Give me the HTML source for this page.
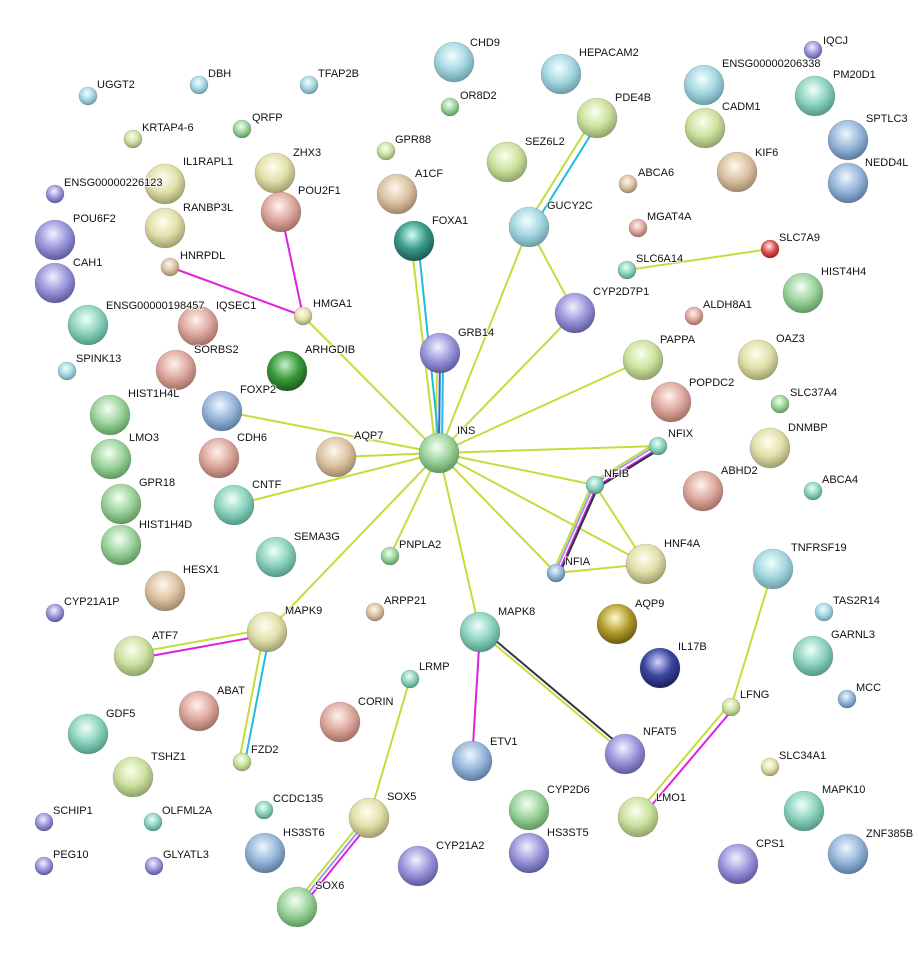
<!DOCTYPE html>
<html><head><meta charset="utf-8"><style>
html,body{margin:0;padding:0;background:#fff}
svg text{font-family:"Liberation Sans",sans-serif;font-size:11px;fill:#111;paint-order:stroke;stroke:#fff;stroke-width:2px;stroke-opacity:.8}
</style></head><body>
<svg width="918" height="953" viewBox="0 0 918 953" xmlns="http://www.w3.org/2000/svg">
<defs>
<radialGradient id="g" cx="45%" cy="35%" r="65%"><stop offset="0" stop-color="#f4fff4"/><stop offset=".55" stop-color="#9ed49e"/><stop offset="1" stop-color="#5e9a5e"/></radialGradient>
<radialGradient id="yg" cx="45%" cy="35%" r="65%"><stop offset="0" stop-color="#fbfff0"/><stop offset=".55" stop-color="#cde2a0"/><stop offset="1" stop-color="#8fa468"/></radialGradient>
<radialGradient id="y" cx="45%" cy="35%" r="65%"><stop offset="0" stop-color="#fffff0"/><stop offset=".55" stop-color="#e2e0aa"/><stop offset="1" stop-color="#a09e6c"/></radialGradient>
<radialGradient id="t" cx="45%" cy="35%" r="65%"><stop offset="0" stop-color="#fff8ee"/><stop offset=".55" stop-color="#dcc4a4"/><stop offset="1" stop-color="#a08868"/></radialGradient>
<radialGradient id="s" cx="45%" cy="35%" r="65%"><stop offset="0" stop-color="#fff2ee"/><stop offset=".55" stop-color="#deaaa0"/><stop offset="1" stop-color="#a46e64"/></radialGradient>
<radialGradient id="b" cx="45%" cy="35%" r="65%"><stop offset="0" stop-color="#f0f6ff"/><stop offset=".55" stop-color="#98b8dc"/><stop offset="1" stop-color="#5a7aa0"/></radialGradient>
<radialGradient id="p" cx="45%" cy="35%" r="65%"><stop offset="0" stop-color="#f2f0ff"/><stop offset=".55" stop-color="#9c98dc"/><stop offset="1" stop-color="#5e5aa0"/></radialGradient>
<radialGradient id="te" cx="45%" cy="35%" r="65%"><stop offset="0" stop-color="#f0fffa"/><stop offset=".55" stop-color="#8ed4c0"/><stop offset="1" stop-color="#509a86"/></radialGradient>
<radialGradient id="lb" cx="45%" cy="35%" r="65%"><stop offset="0" stop-color="#f2ffff"/><stop offset=".55" stop-color="#a6d8e2"/><stop offset="1" stop-color="#6a9ea8"/></radialGradient>
<radialGradient id="r" cx="45%" cy="35%" r="65%"><stop offset="0" stop-color="#fff0f0"/><stop offset=".55" stop-color="#e05050"/><stop offset="1" stop-color="#a02020"/></radialGradient>
<radialGradient id="dg" cx="45%" cy="35%" r="65%"><stop offset="0" stop-color="#c8f0c8"/><stop offset=".55" stop-color="#3c9a3c"/><stop offset="1" stop-color="#1c5a1c"/></radialGradient>
<radialGradient id="db" cx="45%" cy="35%" r="65%"><stop offset="0" stop-color="#d0d4ff"/><stop offset=".55" stop-color="#3c44a0"/><stop offset="1" stop-color="#1c205a"/></radialGradient>
<radialGradient id="ol" cx="45%" cy="35%" r="65%"><stop offset="0" stop-color="#fffad0"/><stop offset=".55" stop-color="#b4a030"/><stop offset="1" stop-color="#6a5a10"/></radialGradient>
<radialGradient id="dt" cx="45%" cy="35%" r="65%"><stop offset="0" stop-color="#d0fff0"/><stop offset=".55" stop-color="#3a9a8a"/><stop offset="1" stop-color="#1a5a50"/></radialGradient>
</defs>
<g stroke-width="2" fill="none">
<g stroke="#c6dc3c">
<line x1="439" y1="453" x2="303" y2="316"/>
<line x1="439" y1="453" x2="529" y2="227"/>
<line x1="439" y1="453" x2="575" y2="313"/>
<line x1="439" y1="453" x2="643" y2="360"/>
<line x1="439" y1="453" x2="222" y2="411"/>
<line x1="439" y1="453" x2="336" y2="457"/>
<line x1="439" y1="453" x2="658" y2="446"/>
<line x1="439" y1="453" x2="595" y2="485"/>
<line x1="439" y1="453" x2="556" y2="573"/>
<line x1="439" y1="453" x2="646" y2="564"/>
<line x1="439" y1="453" x2="234" y2="505"/>
<line x1="439" y1="453" x2="390" y2="556"/>
<line x1="439" y1="453" x2="480" y2="632"/>
<line x1="439" y1="453" x2="267" y2="632"/>
<line x1="436" y1="453" x2="411" y2="241"/>
<line x1="436" y1="453" x2="437" y2="353"/>
<line x1="529" y1="227" x2="575" y2="313"/>
<line x1="526" y1="226" x2="594" y2="117"/>
<line x1="627" y1="270" x2="770" y2="249"/>
<line x1="595" y1="485" x2="646" y2="564"/>
<line x1="556" y1="573" x2="646" y2="564"/>
<line x1="593" y1="482" x2="656" y2="443"/>
<line x1="592" y1="484" x2="553" y2="572"/>
<line x1="267" y1="629" x2="134" y2="653"/>
<line x1="264" y1="632" x2="239" y2="762"/>
<line x1="480" y1="632" x2="625" y2="754"/>
<line x1="410" y1="679" x2="369" y2="818"/>
<line x1="366" y1="816" x2="294" y2="905"/>
<line x1="773" y1="569" x2="731" y2="707"/>
<line x1="729" y1="705" x2="636" y2="815"/>
</g>
<g stroke="#22bbdd">
<line x1="418" y1="241" x2="440" y2="453"/>
<line x1="443" y1="353" x2="442" y2="453"/>
<line x1="532" y1="229" x2="600" y2="120"/>
<line x1="270" y1="632" x2="245" y2="762"/>
</g>
<line x1="440" y1="353" x2="439" y2="453" stroke="#3366cc"/>
<g stroke="#dd22dd">
<line x1="303" y1="316" x2="281" y2="212"/>
<line x1="303" y1="316" x2="170" y2="267"/>
<line x1="267" y1="635" x2="134" y2="659"/>
<line x1="480" y1="632" x2="472" y2="761"/>
<line x1="596" y1="487" x2="659" y2="448"/>
<line x1="372" y1="820" x2="300" y2="909"/>
<line x1="733" y1="709" x2="640" y2="819"/>
<line x1="558" y1="574" x2="597" y2="486"/>
</g>
<g stroke="#9999ee">
<line x1="594" y1="484" x2="657" y2="445"/>
<line x1="555" y1="573" x2="594" y2="485"/>
<line x1="369" y1="818" x2="297" y2="907"/>
</g>
<g stroke="#333344">
<line x1="597" y1="488" x2="660" y2="449"/>
<line x1="559" y1="575" x2="598" y2="487"/>
<line x1="483" y1="630" x2="628" y2="752"/>
</g>
</g>
<g stroke-width=".6" stroke="#00000033">
<circle cx="88" cy="96" r="9" fill="url(#lb)"/>
<circle cx="199" cy="85" r="9" fill="url(#lb)"/>
<circle cx="309" cy="85" r="9" fill="url(#lb)"/>
<circle cx="454" cy="62" r="20" fill="url(#lb)"/>
<circle cx="561" cy="74" r="20" fill="url(#lb)"/>
<circle cx="704" cy="85" r="20" fill="url(#lb)"/>
<circle cx="813" cy="50" r="9" fill="url(#p)"/>
<circle cx="815" cy="96" r="20" fill="url(#te)"/>
<circle cx="450" cy="107" r="9" fill="url(#g)"/>
<circle cx="133" cy="139" r="9" fill="url(#yg)"/>
<circle cx="242" cy="129" r="9" fill="url(#g)"/>
<circle cx="386" cy="151" r="9" fill="url(#yg)"/>
<circle cx="597" cy="118" r="20" fill="url(#yg)"/>
<circle cx="705" cy="128" r="20" fill="url(#yg)"/>
<circle cx="848" cy="140" r="20" fill="url(#b)"/>
<circle cx="628" cy="184" r="9" fill="url(#t)"/>
<circle cx="165" cy="184" r="20" fill="url(#y)"/>
<circle cx="275" cy="173" r="20" fill="url(#y)"/>
<circle cx="507" cy="162" r="20" fill="url(#yg)"/>
<circle cx="737" cy="172" r="20" fill="url(#t)"/>
<circle cx="848" cy="183" r="20" fill="url(#b)"/>
<circle cx="55" cy="194" r="9" fill="url(#p)"/>
<circle cx="397" cy="194" r="20" fill="url(#t)"/>
<circle cx="281" cy="212" r="20" fill="url(#s)"/>
<circle cx="529" cy="227" r="20" fill="url(#lb)"/>
<circle cx="638" cy="228" r="9" fill="url(#s)"/>
<circle cx="55" cy="240" r="20" fill="url(#p)"/>
<circle cx="165" cy="228" r="20" fill="url(#y)"/>
<circle cx="414" cy="241" r="20" fill="url(#dt)"/>
<circle cx="770" cy="249" r="9" fill="url(#r)"/>
<circle cx="170" cy="267" r="9" fill="url(#t)"/>
<circle cx="627" cy="270" r="9" fill="url(#te)"/>
<circle cx="55" cy="283" r="20" fill="url(#p)"/>
<circle cx="303" cy="316" r="9" fill="url(#y)"/>
<circle cx="575" cy="313" r="20" fill="url(#p)"/>
<circle cx="803" cy="293" r="20" fill="url(#g)"/>
<circle cx="88" cy="325" r="20" fill="url(#te)"/>
<circle cx="198" cy="326" r="20" fill="url(#s)"/>
<circle cx="694" cy="316" r="9" fill="url(#s)"/>
<circle cx="67" cy="371" r="9" fill="url(#lb)"/>
<circle cx="440" cy="353" r="20" fill="url(#p)"/>
<circle cx="287" cy="371" r="20" fill="url(#dg)"/>
<circle cx="176" cy="370" r="20" fill="url(#s)"/>
<circle cx="643" cy="360" r="20" fill="url(#yg)"/>
<circle cx="758" cy="360" r="20" fill="url(#y)"/>
<circle cx="671" cy="402" r="20" fill="url(#s)"/>
<circle cx="110" cy="415" r="20" fill="url(#g)"/>
<circle cx="222" cy="411" r="20" fill="url(#b)"/>
<circle cx="780" cy="404" r="9" fill="url(#g)"/>
<circle cx="439" cy="453" r="20" fill="url(#g)"/>
<circle cx="336" cy="457" r="20" fill="url(#t)"/>
<circle cx="658" cy="446" r="9" fill="url(#te)"/>
<circle cx="770" cy="448" r="20" fill="url(#y)"/>
<circle cx="111" cy="459" r="20" fill="url(#g)"/>
<circle cx="219" cy="458" r="20" fill="url(#s)"/>
<circle cx="595" cy="485" r="9" fill="url(#te)"/>
<circle cx="703" cy="491" r="20" fill="url(#s)"/>
<circle cx="813" cy="491" r="9" fill="url(#te)"/>
<circle cx="121" cy="504" r="20" fill="url(#g)"/>
<circle cx="234" cy="505" r="20" fill="url(#te)"/>
<circle cx="121" cy="545" r="20" fill="url(#g)"/>
<circle cx="276" cy="557" r="20" fill="url(#te)"/>
<circle cx="390" cy="556" r="9" fill="url(#g)"/>
<circle cx="556" cy="573" r="9" fill="url(#b)"/>
<circle cx="646" cy="564" r="20" fill="url(#y)"/>
<circle cx="773" cy="569" r="20" fill="url(#lb)"/>
<circle cx="165" cy="591" r="20" fill="url(#t)"/>
<circle cx="55" cy="613" r="9" fill="url(#p)"/>
<circle cx="375" cy="612" r="9" fill="url(#t)"/>
<circle cx="824" cy="612" r="9" fill="url(#lb)"/>
<circle cx="267" cy="632" r="20" fill="url(#y)"/>
<circle cx="480" cy="632" r="20" fill="url(#te)"/>
<circle cx="617" cy="624" r="20" fill="url(#ol)"/>
<circle cx="813" cy="656" r="20" fill="url(#te)"/>
<circle cx="134" cy="656" r="20" fill="url(#yg)"/>
<circle cx="660" cy="668" r="20" fill="url(#db)"/>
<circle cx="410" cy="679" r="9" fill="url(#te)"/>
<circle cx="847" cy="699" r="9" fill="url(#b)"/>
<circle cx="199" cy="711" r="20" fill="url(#s)"/>
<circle cx="340" cy="722" r="20" fill="url(#s)"/>
<circle cx="731" cy="707" r="9" fill="url(#yg)"/>
<circle cx="88" cy="734" r="20" fill="url(#te)"/>
<circle cx="472" cy="761" r="20" fill="url(#b)"/>
<circle cx="625" cy="754" r="20" fill="url(#p)"/>
<circle cx="242" cy="762" r="9" fill="url(#yg)"/>
<circle cx="133" cy="777" r="20" fill="url(#yg)"/>
<circle cx="770" cy="767" r="9" fill="url(#y)"/>
<circle cx="529" cy="810" r="20" fill="url(#g)"/>
<circle cx="638" cy="817" r="20" fill="url(#yg)"/>
<circle cx="804" cy="811" r="20" fill="url(#te)"/>
<circle cx="44" cy="822" r="9" fill="url(#p)"/>
<circle cx="153" cy="822" r="9" fill="url(#te)"/>
<circle cx="264" cy="810" r="9" fill="url(#te)"/>
<circle cx="369" cy="818" r="20" fill="url(#y)"/>
<circle cx="265" cy="853" r="20" fill="url(#b)"/>
<circle cx="529" cy="853" r="20" fill="url(#p)"/>
<circle cx="418" cy="866" r="20" fill="url(#p)"/>
<circle cx="738" cy="864" r="20" fill="url(#p)"/>
<circle cx="848" cy="854" r="20" fill="url(#b)"/>
<circle cx="44" cy="866" r="9" fill="url(#p)"/>
<circle cx="154" cy="866" r="9" fill="url(#p)"/>
<circle cx="297" cy="907" r="20" fill="url(#g)"/>
</g>
<g>
<text x="97" y="88">UGGT2</text>
<text x="208" y="77">DBH</text>
<text x="318" y="77">TFAP2B</text>
<text x="470" y="46">CHD9</text>
<text x="579" y="56">HEPACAM2</text>
<text x="722" y="67">ENSG00000206338</text>
<text x="823" y="44">IQCJ</text>
<text x="833" y="78">PM20D1</text>
<text x="460" y="99">OR8D2</text>
<text x="142" y="131">KRTAP4-6</text>
<text x="252" y="121">QRFP</text>
<text x="395" y="143">GPR88</text>
<text x="615" y="101">PDE4B</text>
<text x="722" y="110">CADM1</text>
<text x="866" y="122">SPTLC3</text>
<text x="638" y="176">ABCA6</text>
<text x="183" y="165">IL1RAPL1</text>
<text x="293" y="156">ZHX3</text>
<text x="525" y="145">SEZ6L2</text>
<text x="755" y="156">KIF6</text>
<text x="865" y="166">NEDD4L</text>
<text x="64" y="186">ENSG00000226123</text>
<text x="415" y="177">A1CF</text>
<text x="298" y="194">POU2F1</text>
<text x="547" y="209">GUCY2C</text>
<text x="647" y="220">MGAT4A</text>
<text x="73" y="222">POU6F2</text>
<text x="183" y="211">RANBP3L</text>
<text x="432" y="224">FOXA1</text>
<text x="779" y="241">SLC7A9</text>
<text x="180" y="259">HNRPDL</text>
<text x="636" y="262">SLC6A14</text>
<text x="73" y="266">CAH1</text>
<text x="313" y="307">HMGA1</text>
<text x="593" y="295">CYP2D7P1</text>
<text x="821" y="275">HIST4H4</text>
<text x="106" y="309">ENSG00000198457</text>
<text x="216" y="309">IQSEC1</text>
<text x="703" y="308">ALDH8A1</text>
<text x="76" y="362">SPINK13</text>
<text x="458" y="336">GRB14</text>
<text x="305" y="353">ARHGDIB</text>
<text x="194" y="353">SORBS2</text>
<text x="660" y="343">PAPPA</text>
<text x="776" y="342">OAZ3</text>
<text x="689" y="386">POPDC2</text>
<text x="128" y="397">HIST1H4L</text>
<text x="240" y="393">FOXP2</text>
<text x="790" y="396">SLC37A4</text>
<text x="457" y="434">INS</text>
<text x="354" y="439">AQP7</text>
<text x="668" y="437">NFIX</text>
<text x="788" y="431">DNMBP</text>
<text x="129" y="441">LMO3</text>
<text x="237" y="441">CDH6</text>
<text x="604" y="477">NFIB</text>
<text x="721" y="474">ABHD2</text>
<text x="822" y="483">ABCA4</text>
<text x="139" y="486">GPR18</text>
<text x="252" y="488">CNTF</text>
<text x="139" y="528">HIST1H4D</text>
<text x="294" y="540">SEMA3G</text>
<text x="399" y="548">PNPLA2</text>
<text x="565" y="565">NFIA</text>
<text x="664" y="547">HNF4A</text>
<text x="791" y="551">TNFRSF19</text>
<text x="183" y="573">HESX1</text>
<text x="64" y="605">CYP21A1P</text>
<text x="384" y="604">ARPP21</text>
<text x="833" y="604">TAS2R14</text>
<text x="285" y="614">MAPK9</text>
<text x="498" y="615">MAPK8</text>
<text x="635" y="607">AQP9</text>
<text x="831" y="638">GARNL3</text>
<text x="152" y="639">ATF7</text>
<text x="678" y="650">IL17B</text>
<text x="419" y="670">LRMP</text>
<text x="856" y="691">MCC</text>
<text x="217" y="694">ABAT</text>
<text x="358" y="705">CORIN</text>
<text x="740" y="698">LFNG</text>
<text x="106" y="717">GDF5</text>
<text x="490" y="745">ETV1</text>
<text x="643" y="735">NFAT5</text>
<text x="251" y="753">FZD2</text>
<text x="151" y="760">TSHZ1</text>
<text x="779" y="759">SLC34A1</text>
<text x="547" y="793">CYP2D6</text>
<text x="656" y="801">LMO1</text>
<text x="822" y="793">MAPK10</text>
<text x="53" y="814">SCHIP1</text>
<text x="162" y="814">OLFML2A</text>
<text x="273" y="802">CCDC135</text>
<text x="387" y="800">SOX5</text>
<text x="283" y="836">HS3ST6</text>
<text x="547" y="836">HS3ST5</text>
<text x="436" y="849">CYP21A2</text>
<text x="756" y="847">CPS1</text>
<text x="866" y="837">ZNF385B</text>
<text x="53" y="858">PEG10</text>
<text x="163" y="858">GLYATL3</text>
<text x="315" y="889">SOX6</text>
</g>
</svg>
</body></html>
